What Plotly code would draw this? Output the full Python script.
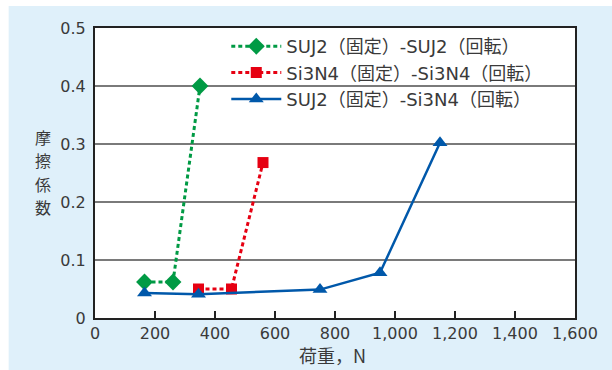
import plotly.graph_objects as go

# Load (N) vs. friction coefficient for each fixed/rotating pairing
suj2_suj2_load = [165, 260, 350]
suj2_suj2_mu = [0.062, 0.062, 0.40]

si3n4_si3n4_load = [345, 455, 560]
si3n4_si3n4_mu = [0.050, 0.050, 0.268]

suj2_si3n4_load = [165, 345, 750, 950, 1150]
suj2_si3n4_mu = [0.043, 0.041, 0.049, 0.078, 0.302]

names = [
    "SUJ2（固定）-SUJ2（回転）",
    "Si3N4（固定）-Si3N4（回転）",
    "SUJ2（固定）-Si3N4（回転）",
]

x_ticks = [0, 200, 400, 600, 800, 1000, 1200, 1400, 1600]
x_tick_text = ["0", "200", "400", "600", "800", "1,000", "1,200", "1,400", "1,600"]
y_ticks = [0, 0.1, 0.2, 0.3, 0.4, 0.5]
y_tick_text = ["0", "0.1", "0.2", "0.3", "0.4", "0.5"]

GREEN = "#009a44"
RED = "#e60012"
BLUE = "#0058aa"
TEXT = "#3a3a3a"
FONT = "DejaVu Sans, Noto Sans CJK JP, sans-serif"
CJK = "Noto Sans CJK JP, sans-serif"

fig = go.Figure()
fig.add_trace(go.Scatter(
    x=suj2_suj2_load, y=suj2_suj2_mu, name=names[0], legendgroup="a",
    mode="lines+markers",
    line=dict(color=GREEN, width=3, dash="4px,3px"),
    marker=dict(symbol="diamond", size=13, color=GREEN),
))
fig.add_trace(go.Scatter(
    x=si3n4_si3n4_load, y=si3n4_si3n4_mu, name=names[1], legendgroup="b",
    mode="lines+markers",
    line=dict(color=RED, width=3, dash="4px,3px"),
    marker=dict(symbol="square", size=11, color=RED),
))
fig.add_trace(go.Scatter(
    x=suj2_si3n4_load, y=suj2_si3n4_mu, name=names[2], legendgroup="c",
    mode="lines+markers",
    line=dict(color=BLUE, width=2.5),
    marker=dict(symbol="triangle-up", size=13, color=BLUE),
))

# Darker reference line at 0.1
fig.add_shape(type="line", xref="x", yref="y", x0=0, x1=1600, y0=0.1, y1=0.1,
              line=dict(color="#333333", width=1.5), layer="below")

# White strips along the top and left edges of the page
fig.add_shape(type="rect", xref="paper", yref="paper",
              x0=-1, x1=2, y0=(318 - 6) / 290, y1=2,
              fillcolor="white", line_width=0, layer="below")
fig.add_shape(type="rect", xref="paper", yref="paper",
              x0=-1, x1=(8 - 94.5) / 480.8, y0=-1, y1=2,
              fillcolor="white", line_width=0, layer="below")

# Vertical y-axis title, one character per row
for i, ch in enumerate("摩擦係数"):
    fig.add_annotation(text=ch, xref="paper", yref="paper",
                       x=(42 - 94.5) / 480.8, y=(318 - (137 + 23.3 * i)) / 290,
                       showarrow=False, xanchor="center", yanchor="middle",
                       font=dict(family=CJK, size=16, color=TEXT))

# x-axis title
fig.add_annotation(text="荷重，N", xref="paper", yref="paper",
                   x=(332 - 94.5) / 480.8, y=(318 - 369.5) / 290,
                   showarrow=False, xanchor="center", yanchor="bottom",
                   font=dict(family=CJK, size=18, color=TEXT))

fig.update_layout(
    width=612, height=370,
    margin=dict(l=94.5, r=36.7, t=28, b=52, autoexpand=False),
    paper_bgcolor="#dff0fa",
    plot_bgcolor="white",
    font=dict(family=FONT, size=16, color=TEXT),
    showlegend=True,
    legend=dict(
        x=(226 - 94.5) / 480.8, y=1, xanchor="left", yanchor="top",
        bgcolor="rgba(0,0,0,0)", borderwidth=0,
        font=dict(family=FONT, size=18, color=TEXT),
        itemwidth=50, tracegroupgap=9, traceorder="normal",
    ),
    xaxis=dict(
        range=[0, 1600], tickvals=x_ticks, ticktext=x_tick_text,
        ticks="inside", ticklen=7, tickwidth=1.5, tickcolor="#222222",
        showgrid=False, zeroline=False, automargin=False,
        showline=True, mirror=True, linecolor="#222222", linewidth=2,
        tickfont=dict(size=16), ticklabelstandoff=0,
    ),
    yaxis=dict(
        range=[0, 0.5], tickvals=y_ticks, ticktext=y_tick_text,
        ticks="", showgrid=True, gridcolor="#7a7a7a", gridwidth=1.5,
        zeroline=False, automargin=False,
        showline=True, mirror=True, linecolor="#222222", linewidth=2,
        ticklabelstandoff=4,
        tickfont=dict(size=16),
    ),
)

fig.write_html("out.html")
